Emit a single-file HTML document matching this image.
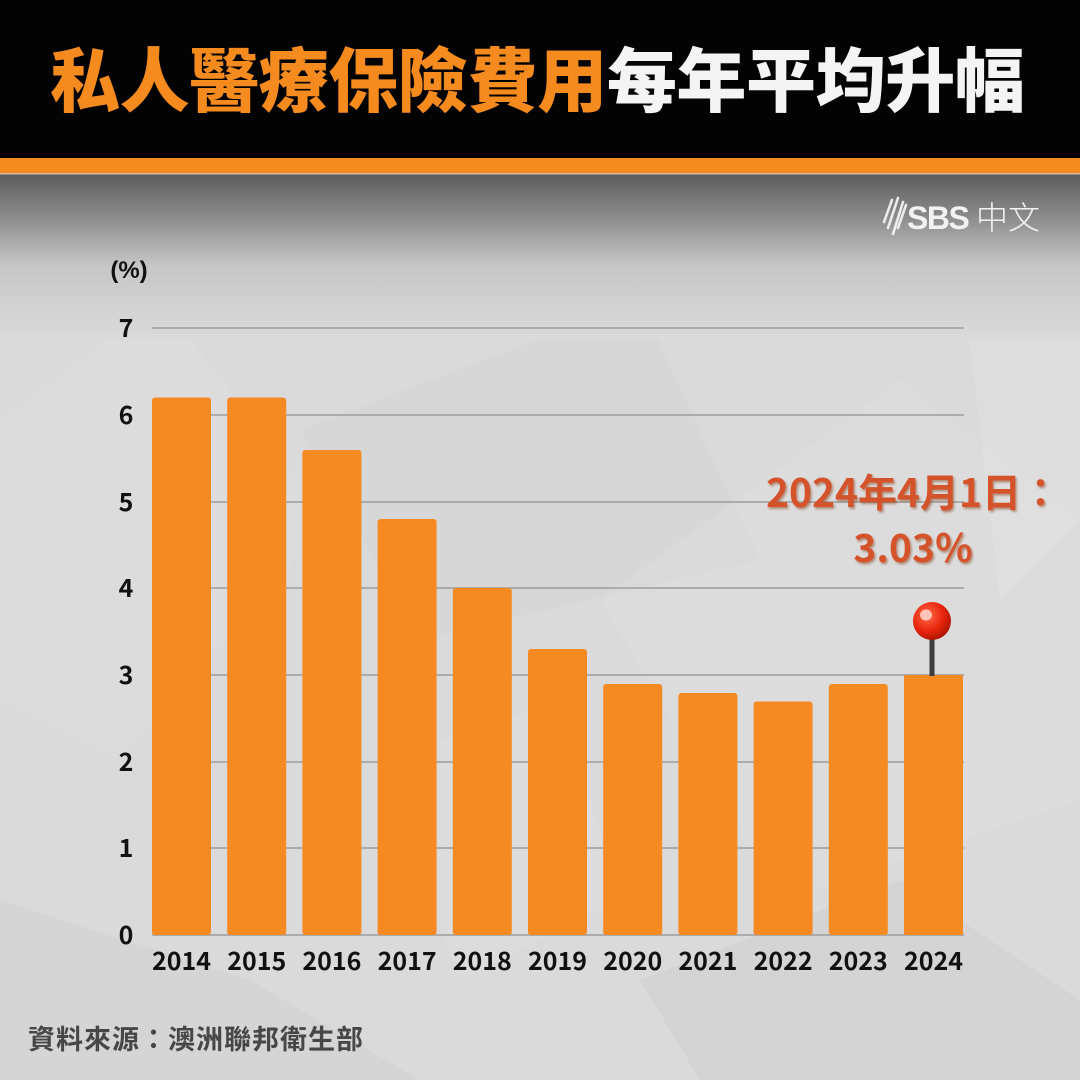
<!DOCTYPE html>
<html>
<head>
<meta charset="utf-8">
<style>
  html,body{margin:0;padding:0;}
  body{width:1080px;height:1080px;overflow:hidden;background:#d9d9d9;}
  svg{display:block;}
</style>
</head>
<body>
<svg width="1080" height="1080" viewBox="0 0 1080 1080" xmlns="http://www.w3.org/2000/svg">
  <defs>
    <linearGradient id="topfade" x1="0" y1="174" x2="0" y2="340" gradientUnits="userSpaceOnUse">
      <stop offset="0" stop-color="#5c5c5c"/>
      <stop offset="0.25" stop-color="#8a8a8a"/>
      <stop offset="0.55" stop-color="#c6c6c6"/>
      <stop offset="1" stop-color="#dbdbdb"/>
    </linearGradient>
    <radialGradient id="ball" cx="0.38" cy="0.35" r="0.7">
      <stop offset="0" stop-color="#ff6a4a"/>
      <stop offset="0.6" stop-color="#e8250c"/>
      <stop offset="1" stop-color="#a81400"/>
    </radialGradient>
    <filter id="ts" x="-10%" y="-10%" width="120%" height="130%">
      <feDropShadow dx="1.5" dy="2" stdDeviation="1" flood-color="#7a2a10" flood-opacity="0.45"/>
    </filter>
  </defs>

  <!-- background -->
  <rect x="0" y="174" width="1080" height="906" fill="#dadada"/>
  <!-- subtle polygons -->
  <polygon points="0,420 160,300 330,520 120,760 0,700" fill="#ffffff" opacity="0.08"/>
  <polygon points="300,430 640,300 760,560 420,640" fill="#000000" opacity="0.012"/>
  <polygon points="600,600 900,380 1080,520 1080,800 780,900" fill="#ffffff" opacity="0.08"/>
  <polygon points="0,900 250,980 420,1080 0,1080" fill="#000000" opacity="0.02"/>
  <polygon points="640,980 900,880 1080,1000 1080,1080 700,1080" fill="#000000" opacity="0.025"/>
  <polygon points="960,260 1080,230 1080,520 1000,600" fill="#ffffff" opacity="0.10"/>
  <polygon points="380,760 560,700 620,900 460,980" fill="#ffffff" opacity="0.06"/>
  <rect x="0" y="174" width="1080" height="166" fill="url(#topfade)"/>

  <!-- header -->
  <rect x="0" y="0" width="1080" height="158" fill="#030303"/>
  <rect x="0" y="158" width="1080" height="15" fill="#f58a1f"/>
  <rect x="0" y="173" width="1080" height="1.5" fill="#d9b79a"/>

  <text x="50" y="106" font-family="'Noto Sans CJK TC','Noto Sans CJK SC',sans-serif" font-weight="900" font-size="70" fill="#f58a1f" letter-spacing="-0.4">私人醫療保險費用<tspan fill="#f4f4f4">每年平均升幅</tspan></text>

  <!-- logo -->
  <g stroke="#f2f2f2" stroke-width="2.6" stroke-linecap="round" opacity="0.95">
    <line x1="884" y1="222" x2="892" y2="200"/>
    <line x1="888" y1="228" x2="898" y2="198"/>
    <line x1="893" y1="234" x2="903" y2="202"/>
    <line x1="898" y1="228" x2="906" y2="205"/>
  </g>
  <text x="907" y="229" font-family="'Liberation Sans',sans-serif" font-weight="700" font-size="32" fill="#f2f2f2" letter-spacing="-1.5">SBS</text>
  <text x="976" y="229" font-family="'Noto Sans CJK TC',sans-serif" font-weight="300" font-size="32" fill="#f2f2f2">中文</text>

  <!-- y unit -->
  <text x="129" y="278" text-anchor="middle" font-family="'Liberation Sans',sans-serif" font-weight="700" font-size="24" fill="#111">(%)</text>

  <!-- gridlines -->
  <g stroke="#9c9c9c" stroke-width="1.5">
    <line x1="152" y1="328" x2="964" y2="328"/>
    <line x1="152" y1="415" x2="964" y2="415"/>
    <line x1="152" y1="502" x2="964" y2="502"/>
    <line x1="152" y1="588" x2="964" y2="588"/>
    <line x1="152" y1="675" x2="964" y2="675"/>
    <line x1="152" y1="762" x2="964" y2="762"/>
    <line x1="152" y1="848" x2="964" y2="848"/>
    <line x1="152" y1="935" x2="964" y2="935"/>
  </g>

  <!-- y labels -->
  <g font-family="'Noto Sans CJK TC','Liberation Sans',sans-serif" font-weight="700" font-size="25" fill="#111" text-anchor="middle">
    <text x="126" y="337">7</text>
    <text x="126" y="424">6</text>
    <text x="126" y="511">5</text>
    <text x="126" y="597">4</text>
    <text x="126" y="684">3</text>
    <text x="126" y="771">2</text>
    <text x="126" y="857">1</text>
    <text x="126" y="944">0</text>
  </g>

  <!-- bars -->
  <g fill="#f58a22">
    <rect x="152" y="397.5" width="59" height="537.5" rx="3"/>
    <rect x="227.2" y="397.5" width="59" height="537.5" rx="3"/>
    <rect x="302.4" y="450" width="59" height="485" rx="3"/>
    <rect x="377.6" y="519" width="59" height="416" rx="3"/>
    <rect x="452.8" y="588" width="59" height="347" rx="3"/>
    <rect x="528" y="649" width="59" height="286" rx="3"/>
    <rect x="603.2" y="684" width="59" height="251" rx="3"/>
    <rect x="678.4" y="693" width="59" height="242" rx="3"/>
    <rect x="753.6" y="701.5" width="59" height="233.5" rx="3"/>
    <rect x="828.8" y="684" width="59" height="251" rx="3"/>
    <rect x="904" y="675" width="59" height="260" rx="2"/>
  </g>

  <!-- x labels -->
  <g font-family="'Noto Sans CJK TC','Liberation Sans',sans-serif" font-weight="700" font-size="25" fill="#111" text-anchor="middle">
    <text x="181.5" y="970">2014</text>
    <text x="256.7" y="970">2015</text>
    <text x="331.9" y="970">2016</text>
    <text x="407.1" y="970">2017</text>
    <text x="482.3" y="970">2018</text>
    <text x="557.5" y="970">2019</text>
    <text x="632.7" y="970">2020</text>
    <text x="707.9" y="970">2021</text>
    <text x="783.1" y="970">2022</text>
    <text x="858.3" y="970">2023</text>
    <text x="933.5" y="970">2024</text>
  </g>

  <!-- pin -->
  <rect x="929.5" y="636" width="5" height="40" fill="#3e3e3e"/>
  <circle cx="932" cy="621" r="19" fill="url(#ball)"/>
  <ellipse cx="926" cy="615" rx="6" ry="5.5" fill="#ffd0c4" opacity="0.9"/>

  <!-- annotation -->
  <g font-family="'Noto Sans CJK TC','Liberation Sans',sans-serif" font-weight="700" fill="#d5522b" filter="url(#ts)" text-anchor="middle">
    <text x="913" y="507" font-size="39">2024年4月1日：</text>
    <text x="913" y="562" font-size="39">3.03%</text>
  </g>

  <!-- source -->
  <text x="28" y="1049" font-family="'Noto Sans CJK TC',sans-serif" font-weight="700" font-size="27" fill="#474747" letter-spacing="1">資料來源：澳洲聯邦衛生部</text>
</svg>
</body>
</html>
